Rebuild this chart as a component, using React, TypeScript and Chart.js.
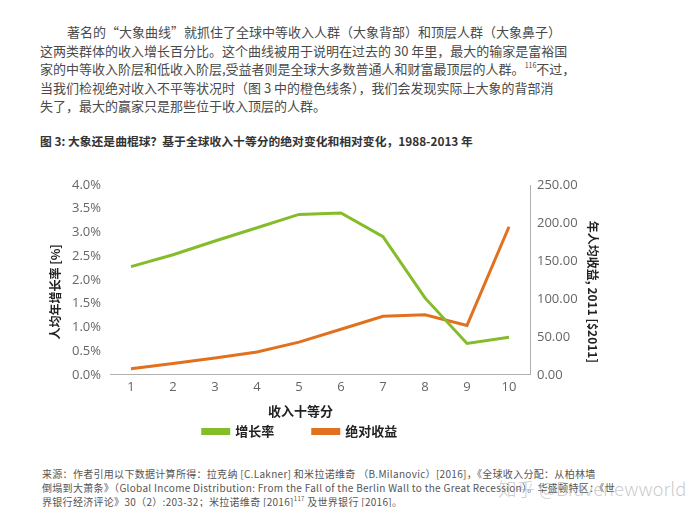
import React, { useEffect, useRef } from "react";
import { Chart, registerables } from "chart.js";

Chart.register(...registerables);

const deciles = ["1", "2", "3", "4", "5", "6", "7", "8", "9", "10"];
const growthRate = [2.28, 2.53, 2.82, 3.1, 3.38, 3.41, 2.91, 1.62, 0.66, 0.79];
const absoluteGain = [8, 15, 22, 30, 43, 60, 77, 79, 65, 195];
const seriesNames = ["增长率", "绝对收益"];
const leftAxisTitle = "人均年增长率 [%]";
const rightAxisTitle = "年人均收益, 2011 [$2011]";
const xAxisTitle = "收入十等分";

const GREEN = "#84bc2a";
const ORANGE = "#e2711f";
const TICK_FONT = "'Open Sans', 'DejaVu Sans', sans-serif";
const CJK = "'Noto Sans CJK SC', 'Noto Sans', sans-serif";
const EM = "\u3000";

const paraLines = [
  "著名的“大象曲线”就抓住了全球中等收入人群（大象背部）和顶层人群（大象鼻子）",
  "这两类群体的收入增长百分比。这个曲线被用于说明在过去的 30 年里，最大的输家是富裕国",
  "家的中等收入阶层和低收入阶层,受益者则是全球大多数普通人和财富最顶层的人群。",
  "当我们检视绝对收入不平等状况时（图 3 中的橙色线条），我们会发现实际上大象的背部消",
  "失了，最大的赢家只是那些位于收入顶层的人群。",
];

export default function App() {
  const canvasRef = useRef<HTMLCanvasElement | null>(null);

  useEffect(() => {
    if (!canvasRef.current) return;
    const chart = new Chart(canvasRef.current, {
      type: "line",
      data: {
        labels: deciles,
        datasets: [
          {
            label: seriesNames[0],
            data: growthRate,
            yAxisID: "y",
            borderColor: GREEN,
            backgroundColor: GREEN,
            borderWidth: 3,
            pointRadius: 0,
            tension: 0,
          },
          {
            label: seriesNames[1],
            data: absoluteGain,
            yAxisID: "y1",
            borderColor: ORANGE,
            backgroundColor: ORANGE,
            borderWidth: 3,
            pointRadius: 0,
            tension: 0,
          },
        ],
      },
      options: {
        animation: false,
        responsive: true,
        maintainAspectRatio: false,
        layout: { padding: { left: 0, right: 100, top: 25, bottom: 12 } },
        plugins: {
          tooltip: { enabled: false },
          legend: {
            position: "bottom",
            labels: {
              boxWidth: 26,
              boxHeight: 4,
              padding: 6,
              color: "#222",
              font: { family: CJK, size: 13, weight: "bold" },
              generateLabels: (c: any) => {
                const items = Chart.defaults.plugins.legend.labels.generateLabels(c);
                items.forEach((it: any, i: number) => {
                  if (i < items.length - 1) it.text = it.text + EM + EM + "\u2002";
                });
                return items;
              },
            },
          },
        },
        scales: {
          x: {
            offset: true,
            grid: { display: false, drawTicks: false },
            border: { display: true, color: "#b0b0b0", width: 1 },
            ticks: {
              color: "#666",
              padding: 5,
              font: { family: TICK_FONT, size: 13 },
            },
            title: {
              display: true,
              text: xAxisTitle + EM + EM + EM,
              color: "#222",
              padding: { top: 3, bottom: 0 },
              font: { family: CJK, size: 13, weight: "bold" },
            },
          },
          y: {
            position: "left",
            min: 0,
            max: 4,
            grid: { display: false, drawTicks: false },
            border: { display: false },
            ticks: {
              stepSize: 0.5,
              padding: 9,
              color: "#666",
              font: { family: TICK_FONT, size: 13 },
              callback: (v: any) => Number(v).toFixed(1) + "%",
            },
            title: {
              display: true,
              text: leftAxisTitle + EM + EM,
              color: "#222",
              padding: { top: 48, bottom: 0 },
              font: { family: CJK, size: 12, weight: "bold" },
            },
            afterFit: (s: any) => {
              s.width = 110;
            },
          },
          y1: {
            position: "right",
            min: 0,
            max: 250,
            grid: { display: false, drawTicks: false },
            border: { display: true, color: "#b0b0b0", width: 1 },
            ticks: {
              stepSize: 50,
              padding: 7,
              color: "#666",
              font: { family: TICK_FONT, size: 13 },
              callback: (v: any) => Number(v).toFixed(2),
            },
            title: {
              display: true,
              text: EM + EM + rightAxisTitle,
              color: "#222",
              padding: { top: 0, bottom: 0 },
              font: { family: CJK, size: 12, weight: "bold" },
            },
            afterFit: (s: any) => {
              s.width = 70;
            },
          },
        },
      },
    });
    return () => chart.destroy();
  }, []);

  const textColor = "#4a4a4a";

  const footerStyle = (i: number, justify: boolean): React.CSSProperties => ({
    position: "absolute",
    left: 42,
    top: 467 + i * 14,
    width: justify ? 485 : undefined,
    fontSize: 10,
    lineHeight: "14px",
    letterSpacing: "0.3px",
    color: "#555",
    whiteSpace: "nowrap",
    textAlign: "justify",
    textAlignLast: justify ? "justify" : "left",
  });

  return (
    <div
      style={{
        position: "relative",
        width: 700,
        height: 515,
        margin: -8,
        background: "#fff",
        overflow: "hidden",
        fontFamily: CJK,
      }}
    >
      {paraLines.map((line, i) => (
        <div
          key={i}
          style={{
            position: "absolute",
            left: i === 0 ? 67 : 40,
            top: 23 + i * 18.6,
            width: i === 0 ? 458 : 485,
            fontSize: 13,
            lineHeight: "18px",
            color: textColor,
            whiteSpace: "nowrap",
            textAlign: "justify",
            textAlignLast: i < 4 ? "justify" : "left",
          }}
        >
          {line}
          {i === 2 ? (
            <>
              <sup style={{ fontSize: 7, verticalAlign: "6px", lineHeight: 0 }}>116</sup>
              不过，
            </>
          ) : null}
        </div>
      ))}

      <div
        style={{
          position: "absolute",
          left: 40,
          top: 132,
          fontSize: 11.8,
          lineHeight: "18px",
          fontWeight: "bold",
          color: "#333",
          whiteSpace: "nowrap",
        }}
      >
        图 3: 大象还是曲棍球？基于全球收入十等分的绝对变化和相对变化，1988-2013 年
      </div>

      <div style={{ position: "absolute", left: 0, top: 160, width: 700, height: 300 }}>
        <canvas ref={canvasRef} />
      </div>

      <div style={footerStyle(0, true)}>
        来源：作者引用以下数据计算所得：拉克纳 [C.Lakner] 和米拉诺维奇 （B.Milanovic）[2016]，《全球收入分配：从柏林墙
      </div>
      <div style={footerStyle(1, true)}>
        倒塌到大萧条》（Global Income Distribution: From the Fall of the Berlin Wall to the Great Recession）。华盛顿特区：《世
      </div>
      <div style={footerStyle(2, false)}>
        界银行经济评论》30（2）:203-32；米拉诺维奇 [2016]
        <sup style={{ fontSize: 6, verticalAlign: "5px", lineHeight: 0 }}>117</sup> 及世界银行 [2016]。
      </div>

      <div
        style={{
          position: "absolute",
          left: 498,
          top: 476,
          fontSize: 18.5,
          lineHeight: "24px",
          color: "rgba(150,150,150,0.5)",
          whiteSpace: "nowrap",
          fontFamily: "'Noto Sans CJK SC', sans-serif",
          fontWeight: 300,
        }}
      >
        知乎 @Bravenewworld
      </div>
    </div>
  );
}
